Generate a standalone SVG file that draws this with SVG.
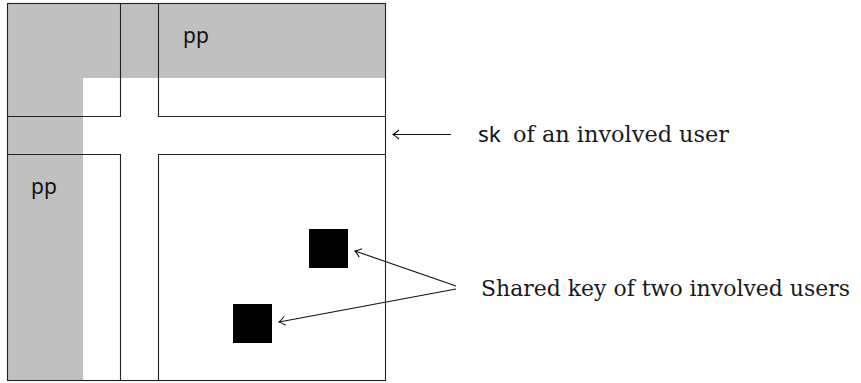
<svg xmlns="http://www.w3.org/2000/svg" width="861" height="383" viewBox="0 0 861 383">
<style>
.gray{fill:#c0c0c0;stroke:none}
.ln{fill:none;stroke:#222;stroke-width:1.1}
.key{fill:#000}
.pp{font-family:"Noto Sans","DejaVu Sans",sans-serif;font-size:21px;fill:#111}
.lbl{font-family:"DejaVu Serif",serif;font-size:22px;fill:#1a1a1a}
.sans{font-family:"Noto Sans","DejaVu Sans",sans-serif;font-size:22px;fill:#111}
.conn{fill:none;stroke:#111;stroke-width:1.1}
</style>
<defs>
<marker id="to" viewBox="-8 -6 10 12" markerWidth="10" markerHeight="12" refX="0" refY="0" orient="auto" markerUnits="userSpaceOnUse">
<path d="M -6,-4.5 Q -2,-1 0,0 Q -2,1 -6,4.5" fill="none" stroke="#111" stroke-width="1.1"/>
</marker>
</defs>
<g id="matrix">
<rect class="gray" x="7" y="3" width="378" height="75"/>
<rect class="gray" x="7" y="3" width="76" height="377"/>
<rect class="ln" x="7.5" y="3.5" width="378" height="377"/>
<path class="ln" d="M120.5,3.5 V116.5 H7.5 M158.5,3.5 V116.5 H385.5 M7.5,154.5 H120.5 V380.5 M385.5,154.5 H158.5 V380.5"/>
<text class="pp" x="183" y="43">pp</text>
<text class="pp" x="31" y="194">pp</text>
</g>
<g id="key1"><rect class="key" x="309" y="229" width="39" height="39"/></g>
<g id="key2"><rect class="key" x="233" y="304" width="39" height="39"/></g>
<g id="label-sk">
<text class="sans" x="478" y="142" textLength="23" lengthAdjust="spacingAndGlyphs">sk</text>
<text class="lbl" x="513" y="142" textLength="216" lengthAdjust="spacingAndGlyphs">of an involved user</text>
</g>
<g id="label-shared"><text class="lbl" x="481" y="296" textLength="369" lengthAdjust="spacingAndGlyphs">Shared key of two involved users</text></g>
<g id="connectors">
<line class="conn" x1="451" y1="134.5" x2="393" y2="134.5" marker-end="url(#to)"/>
<line class="conn" x1="456" y1="286" x2="355" y2="251" marker-end="url(#to)"/>
<line class="conn" x1="456" y1="289" x2="279" y2="322" marker-end="url(#to)"/>
</g>
</svg>
